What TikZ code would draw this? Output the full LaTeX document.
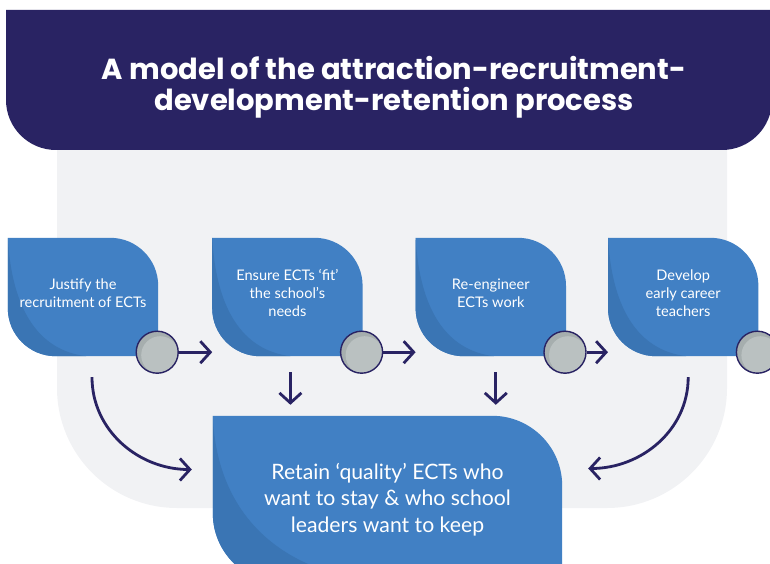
\documentclass[tikz,border=0pt]{standalone}
\usepackage{fontspec}
\setmainfont{Lato}
\newfontfamily\headfont{Poppins}
\usetikzlibrary{arrows.meta, positioning, calc, backgrounds}
\definecolor{cNavy}{RGB}{41,35,99}
\definecolor{cBlue}{RGB}{65,128,196}
\definecolor{cBlueDark}{RGB}{58,117,180}
\definecolor{cPanel}{RGB}{241,242,244}
\definecolor{cDisc}{RGB}{186,193,193}
\definecolor{cDiscDark}{RGB}{166,174,174}
\tikzset{
  stepleaf/.style={rectangle, minimum width=150pt, minimum height=118pt,
                   inner sep=0pt},
  steptext/.style={align=center, text=white,
                   font=\fontsize{14.6}{18}\selectfont, yshift=4pt},
  keepleaf/.style={rectangle, minimum width=349pt, minimum height=167pt,
                   inner sep=0pt, align=center, text=white,
                   font=\fontsize{21.2}{26.5}\selectfont},
  disc/.style={circle, minimum size=42pt, inner sep=0pt, draw=cNavy,
               line width=1.4pt, fill=cDiscDark,
               path picture={\fill[cDisc] ([shift={(3pt,-3pt)}]path picture bounding box.center) circle (19pt);}},
  flowarrow/.style={-{Straight Barb[length=10pt, width=22pt]},
                    line width=2.8pt, draw=cNavy}
}
% leaf outline: sharp NW/SE corners, round NE/SW corners
\newcommand{\leafshape}[2]{(#1.north west) -- ([xshift=-#2]#1.north east)
  arc[start angle=90, end angle=0, radius=#2] -- (#1.south east)
  -- ([xshift=#2]#1.south west) arc[start angle=270, end angle=180, radius=#2] -- cycle}
\newcommand{\leafbg}[2]{%
  \fill[cBlue] \leafshape{#1}{#2};
  \begin{scope}
    \clip \leafshape{#1}{#2};
    \fill[cBlueDark] (#1.north west)
      .. controls ($(#1.north west)!0.6!(#1.south west)+(4pt,0)$)
             and ($(#1.south west)!0.2!(#1.south east)+(0,6pt)$)
      .. ($(#1.south west)!0.52!(#1.south east)$) -- (#1.south west) -- cycle;
  \end{scope}}

\begin{document}
\begin{tikzpicture}[x=1pt, y=1pt]
  \useasboundingbox (0,0) rectangle (770,563);
  \clip (0,0) rectangle (770,563);

  % Header
  \node[font=\headfont\fontsize{29}{31}\selectfont\bfseries, text=white, align=center] (hdr) at (394,476)
      {A model of the attraction-recruitment-\\development-retention process};

  % Steps
  \node[stepleaf, label={[steptext]center:Justify the\\recruitment of ECTs}] (just) at (83,266) {};
  \node[stepleaf, right=54pt of just,
        label={[steptext]center:Ensure ECTs ‘fit’\\the school’s\\needs}] (fit) {};
  \node[stepleaf, right=53pt of fit, label={[steptext]center:Re-engineer\\ECTs work}] (reeng) {};
  \node[stepleaf, right=42pt of reeng,
        label={[steptext]center:Develop\\early career\\teachers}] (dev) {};

  % Outcome
  \node[keepleaf] (keep) at (387.5,63.5)
      {Retain ‘quality’ ECTs who\\want to stay \& who school\\leaders want to keep};

  % Discs on the step corners
  \node[disc] (d1) at ([shift={(-1,4)}]just.south east) {};
  \node[disc] (d2) at ([shift={(-1,4)}]fit.south east) {};
  \node[disc] (d3) at ([shift={(-1,4)}]reeng.south east) {};
  \node[disc] (d4) at ([shift={(-1,4)}]dev.south east) {};

  % Arrows
  \draw[flowarrow] (d1) -- (d1 -| fit.west);
  \draw[flowarrow] (d2) -- (d2 -| reeng.west);
  \draw[flowarrow] (d3) -- (d3 -| dev.west);
  \draw[flowarrow, shorten >=11pt] ([xshift=3pt,yshift=-16pt]fit.south) -- ([xshift=3pt]fit.south |- keep.north);
  \draw[flowarrow, shorten >=11pt] ([xshift=5pt,yshift=-16pt]reeng.south) -- ([xshift=5pt]reeng.south |- keep.north);
  \draw[flowarrow] ([xshift=9pt,yshift=-21pt]just.south) to[out=-90, in=180]
      ([xshift=-21pt,yshift=30pt]keep.west);
  \draw[flowarrow] ([xshift=5pt,yshift=-21pt]dev.south) to[out=-90, in=0]
      ([xshift=26pt,yshift=31pt]keep.east);

  % Background shapes
  \begin{pgfonlayer}{background}
    \fill[cPanel, rounded corners=120pt] (57,440) -- (57,55) -- (727,55) -- (727,440);
    \fill[cNavy, rounded corners=50pt] (6,553) -- (6,413) -- (772,413) -- (772,553);
    \leafbg{just}{48pt}
    \leafbg{fit}{48pt}
    \leafbg{reeng}{48pt}
    \leafbg{dev}{48pt}
    \leafbg{keep}{70pt}
  \end{pgfonlayer}

\end{tikzpicture}
\end{document}
